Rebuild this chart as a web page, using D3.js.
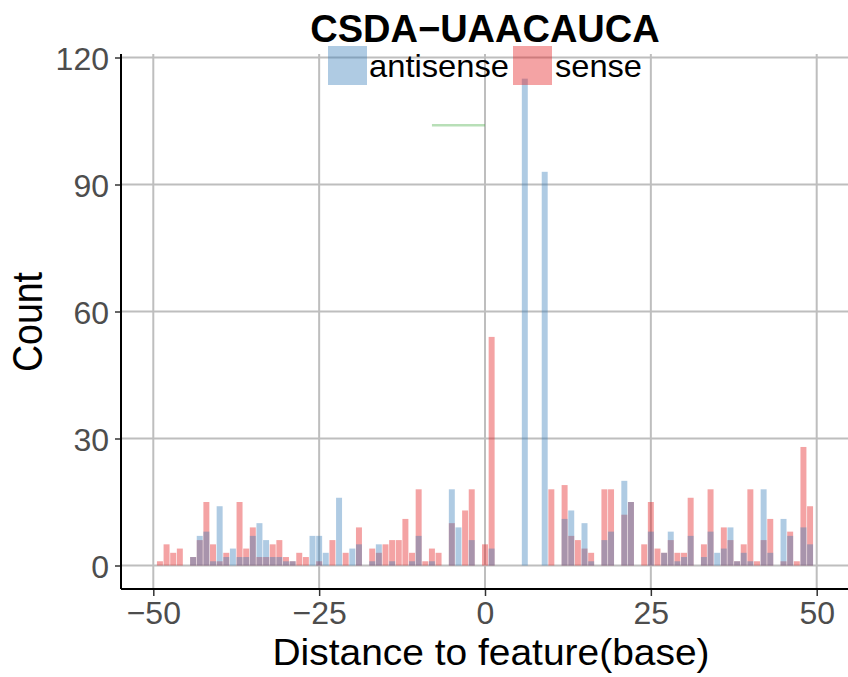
<!DOCTYPE html>
<html>
<head>
<meta charset="utf-8">
<script src="https://cdn.jsdelivr.net/npm/d3@7"></script>
<style>
  html, body { margin: 0; padding: 0; background: #fff; }
  svg { display: block; font-family: "Liberation Sans", Arial, sans-serif; }
</style>
</head>
<body>
<svg id="chart" width="848" height="677"></svg>
<script>
// ---- data ----
const positions = d3.range(-50, 51);
const antisense = [
  0,0,0,0,0,0,2,7,8,1,14,2,4,2,2,7,10,6,2,2,1,1,0,0,7,7,3,0,16,0,4,5,0,1,5,0,1,0,0,1,7,0,1,0,0,18,9,0,6,0,
  0,4,0,0,0,0,115,0,0,93,0,0,11,13,0,10,1,0,6,8,0,20,15,0,0,8,0,3,8,1,2,7,0,2,8,3,4,9,1,3,1,0,18,3,0,11,7,0,9,5,0
];
const sense = [
  0,1,5,3,4,0,2,6,15,5,1,3,0,15,4,9,2,2,5,6,2,1,3,2,0,1,0,6,0,3,0,9,0,4,3,5,6,6,11,3,18,1,4,3,0,10,0,13,18,0,
  5,54,0,0,0,0,0,0,0,0,18,0,19,7,6,4,3,0,18,18,0,12,15,0,5,15,4,3,6,3,3,16,0,5,18,0,9,6,1,5,18,1,6,11,0,1,8,1,28,14,0
];
const xTicks = [-50, -25, 0, 25, 50];
const yTicks = [0, 30, 60, 90, 120];
const seriesNames = ["antisense", "sense"];
const seriesColors = ["#377EB8", "#E41A1C"];
const segment = { x1: -8, x2: 0, y: 104 };
const segmentColor = "#4DAF4A";
const titleText = "CSDA\u2212UAACAUCA";
const xTitle = "Distance to feature(base)";
const yTitle = "Count";

// ---- layout ----
const svg = d3.select("#chart");
const panel = { left: 121, right: 848, top: 54, bottom: 589 };
const x = d3.scaleLinear().domain([-50, 50]).range([153.3, 816.7]);
const y = d3.scaleLinear().domain([0, 120]).range([565.5, 57.5]);
const alpha = 0.4;
const barW = (x(1) - x(0)) * 0.9;

// gridlines
const grid = svg.append("g");
grid.selectAll("line.v").data(xTicks).join("line")
  .attr("x1", d => x(d)).attr("x2", d => x(d))
  .attr("y1", panel.top).attr("y2", panel.bottom)
  .attr("stroke", "#bebebe").attr("stroke-width", 2);
grid.selectAll("line.h").data(yTicks).join("line")
  .attr("x1", panel.left).attr("x2", panel.right)
  .attr("y1", d => y(d)).attr("y2", d => y(d))
  .attr("stroke", "#bebebe").attr("stroke-width", 2);

// bars: sense first, antisense on top
const seriesData = [sense, antisense];
const seriesCols = [seriesColors[1], seriesColors[0]];
seriesData.forEach((vals, si) => {
  svg.append("g").selectAll("rect")
    .data(positions.map((p, i) => ({ p, v: vals[i] })).filter(d => d.v > 0))
    .join("rect")
    .attr("x", d => x(d.p) - barW / 2)
    .attr("width", barW)
    .attr("y", d => y(d.v))
    .attr("height", d => y(0) - y(d.v))
    .attr("fill", seriesCols[si])
    .attr("fill-opacity", alpha);
});

// green segment
svg.append("line")
  .attr("x1", x(segment.x1)).attr("x2", x(segment.x2))
  .attr("y1", y(segment.y)).attr("y2", y(segment.y))
  .attr("stroke", segmentColor).attr("stroke-opacity", alpha)
  .attr("stroke-width", 2.7);

// axes
const xAxis = svg.append("g").attr("transform", `translate(0,${panel.bottom})`)
  .call(d3.axisBottom(x).tickValues(xTicks).tickSize(7).tickPadding(5)
    .tickFormat(d => d < 0 ? "\u2212" + Math.abs(d) : d));
const yAxis = svg.append("g").attr("transform", `translate(${panel.left},0)`)
  .call(d3.axisLeft(y).tickValues(yTicks).tickSize(6).tickPadding(6));
[xAxis, yAxis].forEach(a => {
  a.select(".domain").remove();
  a.selectAll(".tick line").attr("stroke", "#333").attr("stroke-width", 1.5);
  a.selectAll(".tick text").attr("fill", "#4d4d4d")
    .style("font-size", "32px").style("font-family", "'Liberation Sans', Arial, sans-serif");
});
xAxis.selectAll(".tick text").attr("dy", "0.71em");
yAxis.selectAll(".tick text").attr("dy", "0.36em");
svg.append("line").attr("x1", panel.left).attr("x2", panel.right)
  .attr("y1", panel.bottom).attr("y2", panel.bottom)
  .attr("stroke", "#000").attr("stroke-width", 2);
svg.append("line").attr("x1", panel.left).attr("x2", panel.left)
  .attr("y1", panel.top).attr("y2", panel.bottom)
  .attr("stroke", "#000").attr("stroke-width", 2);

// axis titles
svg.append("text").attr("x", 491).attr("y", 665)
  .attr("text-anchor", "middle").style("font-size", "36px").attr("fill", "#000")
  .attr("textLength", 437).attr("lengthAdjust", "spacingAndGlyphs")
  .text(xTitle);
svg.append("text").attr("transform", "translate(42,322) rotate(-90)")
  .attr("text-anchor", "middle").style("font-size", "43px").attr("fill", "#000")
  .attr("textLength", 100).attr("lengthAdjust", "spacingAndGlyphs")
  .text(yTitle);

// title
svg.append("text").attr("x", 485).attr("y", 42)
  .attr("text-anchor", "middle").style("font-size", "38px").style("font-weight", "bold")
  .attr("fill", "#000").text(titleText);

// legend
const legendItems = [
  { name: seriesNames[0], color: seriesColors[0], kx: 328, tx: 369, len: 140 },
  { name: seriesNames[1], color: seriesColors[1], kx: 513, tx: 555, len: 87 }
];
const lg = svg.append("g");
lg.selectAll("rect").data(legendItems).join("rect")
  .attr("x", d => d.kx).attr("y", 46).attr("width", 39).attr("height", 39)
  .attr("fill", d => d.color).attr("fill-opacity", alpha);
lg.selectAll("text").data(legendItems).join("text")
  .attr("x", d => d.tx).attr("y", 77)
  .style("font-size", "32px").attr("fill", "#000")
  .attr("textLength", d => d.len).attr("lengthAdjust", "spacingAndGlyphs")
  .text(d => d.name);
</script>
</body>
</html>
